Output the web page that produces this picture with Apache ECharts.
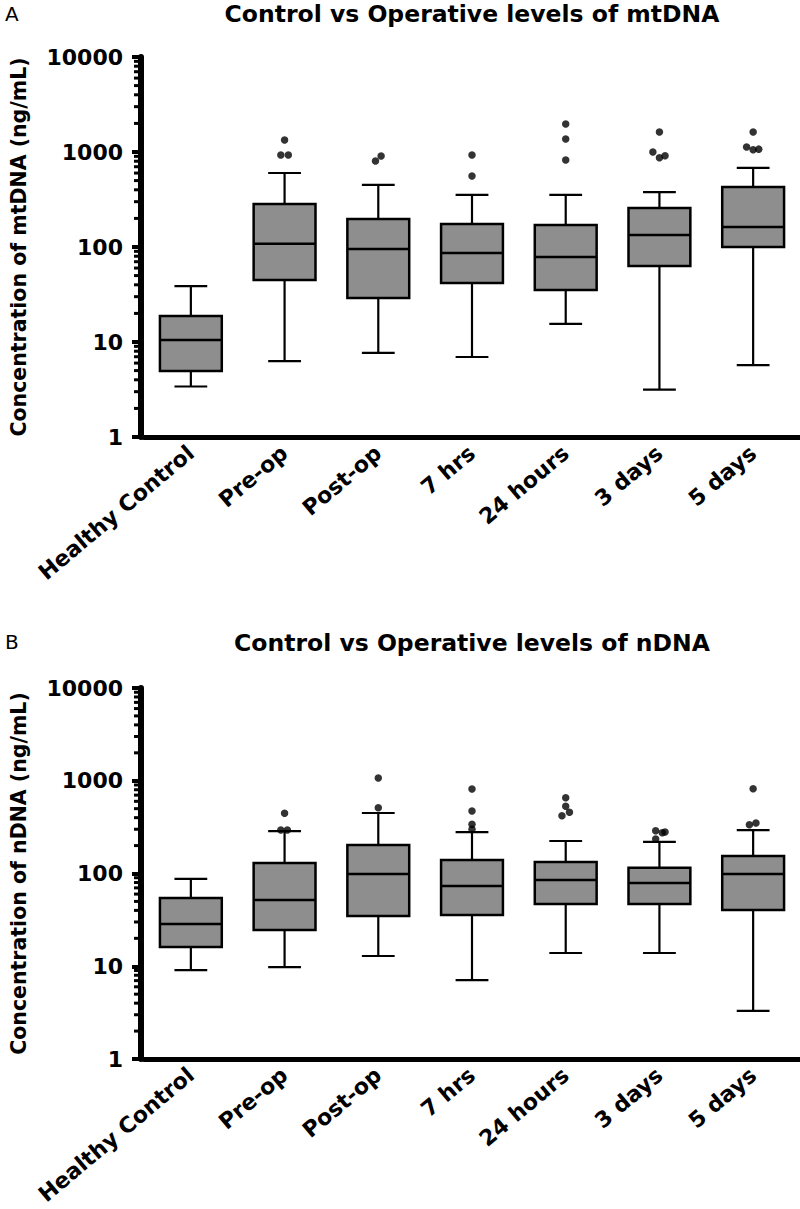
<!DOCTYPE html>
<html>
<head>
<meta charset="utf-8">
<script src="https://cdn.jsdelivr.net/npm/echarts@6/dist/echarts.min.js"></script>
<style>
html,body{margin:0;padding:0;background:#fff;}
#chart{width:800px;height:1209px;}
</style>
</head>
<body>
<div id="chart"></div>
<script>
// ---------- data ----------
const categories = ['Healthy Control', 'Pre-op', 'Post-op', '7 hrs', '24 hours', '3 days', '5 days'];
const yTickValues = [1, 10, 100, 1000, 10000];
const minorTickValues = [2,3,4,5,6,7,8,9, 20,30,40,50,60,70,80,90, 200,300,400,500,600,700,800,900, 2000,3000,4000,5000,6000,7000,8000,9000];

// [min, Q1, median, Q3, max] per category
const mtDNABoxes = [
  [3.4, 4.95, 10.5, 18.8, 38.8],
  [6.3, 45, 108, 284, 601],
  [7.7, 29, 95, 197, 450],
  [6.95, 41.8, 86.5, 175, 353],
  [15.5, 35.3, 78.5, 170, 353],
  [3.16, 63, 134, 258, 379],
  [5.7, 100, 162, 428, 679]
];
// [category position, value]
const mtDNAOutliers = [
  [1, 1337], [0.96, 930], [1.04, 930],
  [1.97, 804], [2.03, 907],
  [3, 930], [3, 558],
  [4, 1972], [4, 1370], [4, 824],
  [5, 1625], [4.93, 1000], [5, 871], [5.06, 914],
  [6, 1625], [5.93, 1130], [6, 1057], [6.06, 1072]
];

const nDNABoxes = [
  [9.1, 16.1, 28.5, 54.4, 87.3],
  [9.8, 24.6, 51.8, 130, 287],
  [12.9, 34.8, 98.8, 203, 449],
  [7.1, 35.7, 73.3, 140, 280],
  [13.9, 46.9, 85, 133, 224],
  [13.9, 47, 79, 115, 219],
  [3.3, 40.4, 98.8, 154.5, 294]
];
const nDNAOutliers = [
  [1, 446], [0.96, 294], [1.03, 294],
  [2, 1070], [2, 512],
  [3, 815], [3, 472], [3, 339], [3, 300],
  [4, 657], [4, 530], [4.04, 457], [3.96, 420],
  [4.96, 289], [5.03, 275], [5.06, 280], [4.96, 235],
  [6, 820], [5.96, 336], [6.03, 350]
];

const titles = ['Control vs Operative levels of mtDNA', 'Control vs Operative levels of nDNA'];
const yNames = ['Concentration of mtDNA (ng/mL)', 'Concentration of nDNA (ng/mL)'];
const panelLetters = ['A', 'B'];

// ---------- styles ----------
const FONT = 'DejaVu Sans';
const BOX_FILL = '#8e8e8e';
const Y_OFFSET = 3;

const chart = echarts.init(document.getElementById('chart'), null, {renderer: 'svg'});

const grids = [
  {left: 140, right: 0, top: 57, height: 380},
  {left: 140, right: 0, top: 688, height: 371}
];

function boxRender(params, api) {
  const idx = api.value(0);
  const x = api.coord([idx, api.value(3)])[0];
  const yMin = api.coord([idx, api.value(1)])[1];
  const yQ1 = api.coord([idx, api.value(2)])[1];
  const yMed = api.coord([idx, api.value(3)])[1];
  const yQ3 = api.coord([idx, api.value(4)])[1];
  const yMax = api.coord([idx, api.value(5)])[1];
  const band = api.size([1, 10], [idx, 10])[0];
  const bw = band * 0.66;
  const cw = band * 0.35;
  const lineStyle = {stroke: '#000', lineWidth: 2.2};
  return {
    type: 'group',
    children: [
      {type: 'line', shape: {x1: x, y1: yQ3, x2: x, y2: yMax}, style: lineStyle},
      {type: 'line', shape: {x1: x - cw / 2, y1: yMax, x2: x + cw / 2, y2: yMax}, style: lineStyle},
      {type: 'line', shape: {x1: x, y1: yQ1, x2: x, y2: yMin}, style: lineStyle},
      {type: 'line', shape: {x1: x - cw / 2, y1: yMin, x2: x + cw / 2, y2: yMin}, style: lineStyle},
      {type: 'rect', shape: {x: x - bw / 2, y: yQ3, width: bw, height: yQ1 - yQ3},
        style: {fill: BOX_FILL, stroke: '#000', lineWidth: 2.5}},
      {type: 'line', shape: {x1: x - bw / 2, y1: yMed, x2: x + bw / 2, y2: yMed},
        style: {stroke: '#000', lineWidth: 2.5}}
    ]
  };
}

function minorTickRender(params, api) {
  const y = api.coord([0, api.value(1)])[1];
  const x0 = params.coordSys.x - Y_OFFSET;
  return {type: 'line', shape: {x1: x0 - 7, y1: y, x2: x0, y2: y},
    style: {stroke: '#000', lineWidth: 3}};
}

const xAxes = [], yAxes = [], series = [], graphics = [];
[0, 1].forEach(function (g) {
  xAxes.push({
    type: 'category', gridIndex: g, data: categories, boundaryGap: true,
    axisLine: {onZero: false, lineStyle: {color: '#000', width: 5}},
    axisTick: {alignWithLabel: true, length: 7, lineStyle: {color: '#000', width: 5}},
    axisLabel: {rotate: 40, margin: 13, color: '#000', fontFamily: FONT, fontWeight: 'bold', fontSize: 22, interval: 0},
    splitLine: {show: false}
  });
  xAxes.push({
    type: 'value', gridIndex: g, min: -0.5, max: 6.5, show: false,
    axisLine: {onZero: false}
  });
  yAxes.push({
    type: 'log', logBase: 10, gridIndex: g, min: 1, max: 10000, offset: Y_OFFSET,
    position: 'left',
    name: yNames[g], nameLocation: 'middle', nameGap: 112,
    nameTextStyle: {color: '#000', fontFamily: FONT, fontWeight: 'bold', fontSize: 20.5},
    axisLine: {show: true, onZero: false, lineStyle: {color: '#000', width: 6}},
    axisTick: {show: true, length: 9, lineStyle: {color: '#000', width: 4}},
    axisLabel: {margin: 18, color: '#000', fontFamily: FONT, fontWeight: 'bold', fontSize: 22,
      formatter: function (v) { return String(yTickValues.find(function (t) { return Math.abs(t - v) < 1e-6 * t; }) || v); }},
    splitLine: {show: false}
  });
  const boxes = g === 0 ? mtDNABoxes : nDNABoxes;
  const outs = g === 0 ? mtDNAOutliers : nDNAOutliers;
  series.push({
    type: 'custom', xAxisIndex: g * 2, yAxisIndex: g, renderItem: minorTickRender,
    data: minorTickValues.map(function (v) { return [0, v]; }), silent: true, z: 3
  });
  series.push({
    type: 'custom', xAxisIndex: g * 2, yAxisIndex: g, renderItem: boxRender,
    encode: {x: 0, y: [1, 2, 3, 4, 5]},
    data: boxes.map(function (b, i) { return [i].concat(b); }), z: 2
  });
  series.push({
    type: 'scatter', xAxisIndex: g * 2 + 1, yAxisIndex: g,
    data: outs, symbol: 'circle', symbolSize: 7.5,
    itemStyle: {color: '#000'}, z: 4
  });
});

graphics.push({type: 'text', left: 5, top: 4, style: {text: panelLetters[0], fontFamily: FONT, fontSize: 20, fill: '#000'}});
graphics.push({type: 'text', left: 5, top: 632, style: {text: panelLetters[1], fontFamily: FONT, fontSize: 20, fill: '#000'}});
graphics.push({type: 'text', x: 472, y: 14, style: {text: titles[0], fontFamily: FONT, fontWeight: 'bold', fontSize: 23.5, fill: '#000', align: 'center', verticalAlign: 'middle'}});
graphics.push({type: 'text', x: 472, y: 643, style: {text: titles[1], fontFamily: FONT, fontWeight: 'bold', fontSize: 23.5, fill: '#000', align: 'center', verticalAlign: 'middle'}});

chart.setOption({
  animation: false,
  backgroundColor: '#fff',
  grid: grids,
  xAxis: xAxes,
  yAxis: yAxes,
  series: series,
  graphic: graphics
});
</script>
</body>
</html>
